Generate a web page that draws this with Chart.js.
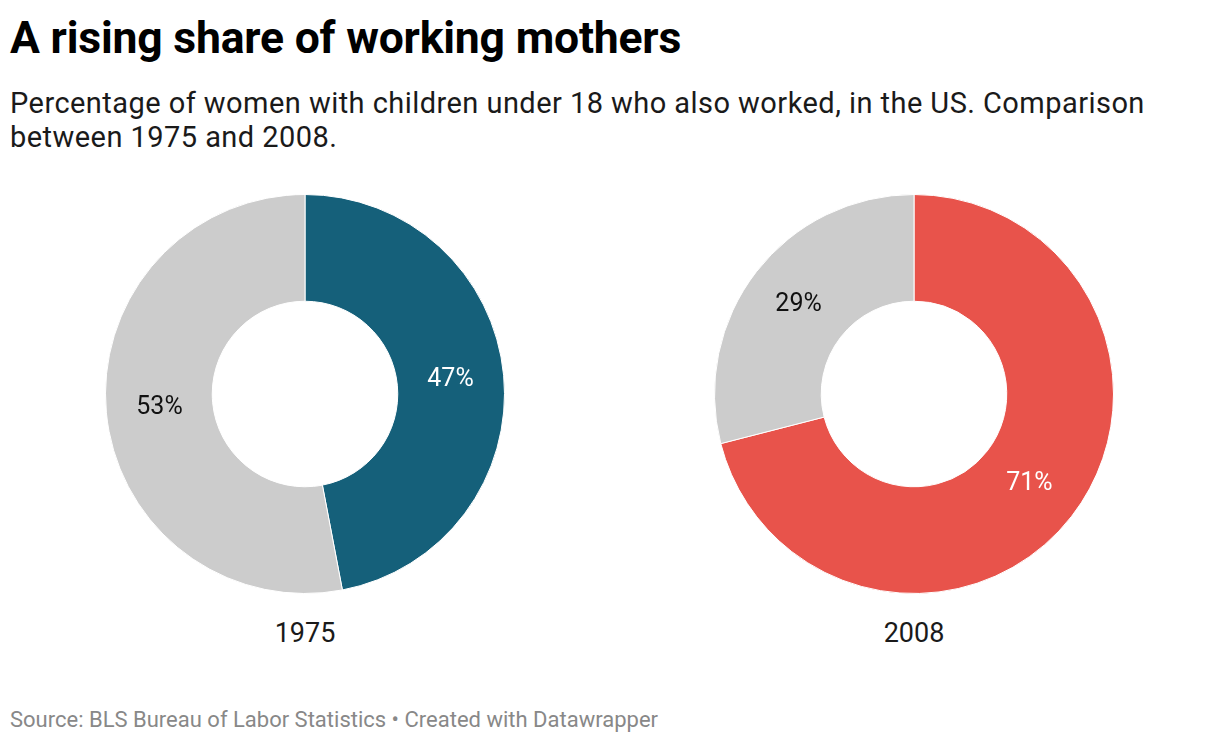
<!DOCTYPE html>
<html>
<head>
<meta charset="utf-8">
<script src="https://cdn.jsdelivr.net/npm/chart.js@4"></script>
<style>
  body { margin: 0; background: #fff; font-family: Roboto, sans-serif; width: 1220px; height: 744px; position: relative; overflow: hidden; }
  h1 { position: absolute; left: 10px; top: 12px; margin: 0; font-size: 44.5px; line-height: 52px; font-weight: 700; color: #000; letter-spacing: -0.2px; }
  .sub { position: absolute; left: 10px; top: 86px; width: 1200px; font-size: 29px; line-height: 34px; letter-spacing: 0.45px; color: #1a1a1a; }
  .pie { position: absolute; top: 184px; width: 420px; height: 420px; }
  .yr { position: absolute; top: 616px; width: 420px; text-align: center; font-size: 27px; line-height: 34px; color: #1a1a1a; }
  .foot { position: absolute; left: 10px; top: 706px; font-size: 22px; line-height: 28px; color: #888; }
</style>
</head>
<body>
<h1>A rising share of working mothers</h1>
<div class="sub">Percentage of women with children under 18 who also worked, in the US. Comparison between 1975 and 2008.</div>
<div class="pie" style="left:95px"><canvas id="c1"></canvas></div>
<div class="pie" style="left:704px"><canvas id="c2"></canvas></div>
<div class="yr" style="left:95px" id="y1"></div>
<div class="yr" style="left:704px" id="y2"></div>
<div class="foot">Source: BLS Bureau of Labor Statistics • Created with Datawrapper</div>
<script>
// Daten
const years = ['1975', '2008'];
const working = [47, 71];
const notWorking = [53, 29];
const colors = ['#15607a', '#e8534b'];
const GRAY = '#cccccc';

// Prozent-Labels in der Mitte des Rings
const ringLabels = {
  id: 'ringLabels',
  afterDatasetsDraw(chart) {
    const ctx = chart.ctx;
    const meta = chart.getDatasetMeta(0);
    ctx.save();
    ctx.font = '25px Roboto, sans-serif';
    ctx.textAlign = 'center';
    ctx.textBaseline = 'middle';
    meta.data.forEach((arc, i) => {
      const mid = (arc.startAngle + arc.endAngle) / 2;
      const r = (arc.innerRadius + arc.outerRadius) / 2;
      ctx.fillStyle = i === 0 ? '#fff' : '#111';
      ctx.fillText(chart.data.datasets[0].data[i] + '%', arc.x + Math.cos(mid) * r, arc.y + Math.sin(mid) * r);
    });
    ctx.restore();
  }
};

years.forEach((y, k) => {
  document.getElementById('y' + (k + 1)).textContent = y;
  new Chart(document.getElementById('c' + (k + 1)), {
    type: 'doughnut',
    data: {
      labels: ['Worked', 'Did not work'],
      datasets: [{
        data: [working[k], notWorking[k]],
        backgroundColor: [colors[k], GRAY],
        borderColor: '#fff',
        borderWidth: 1
      }]
    },
    options: {
      responsive: true, maintainAspectRatio: false, animation: false,
      cutout: '46.5%',
      layout: { padding: 10 },
      plugins: { legend: { display: false }, tooltip: { enabled: false } }
    },
    plugins: [ringLabels]
  });
});
</script>
</body>
</html>
